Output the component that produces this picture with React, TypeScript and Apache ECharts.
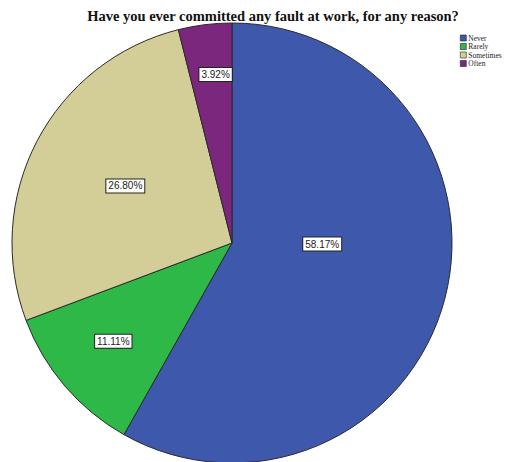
import React, { useEffect, useRef } from "react";
import * as echarts from "echarts";

const categories = ["Never", "Rarely", "Sometimes", "Often"];
const percentages = [58.17, 11.11, 26.8, 3.92];
const colors = ["#3E58AC", "#2EB848", "#D3CE97", "#7B277D"];

// label placement (fraction of radius, angular tweak in degrees)
const labelRadiusRatio = [0.41, 0.7, 0.55, 0.77];
const labelAngleTweak = [-14, 1, 0.5, 1.5];

const CX = 232;
const CY = 243;
const R = 220;

export default function App() {
  const ref = useRef<HTMLDivElement>(null);
  useEffect(() => {
    if (!ref.current) return;
    const chart = echarts.init(ref.current, null, { renderer: "svg" });
    const total = percentages.reduce((a, b) => a + b, 0);
    const mids: number[] = [];
    let acc = 0;
    percentages.forEach((v) => {
      mids.push(((acc + v / 2) / total) * 360);
      acc += v;
    });
    chart.setOption({
      animation: false,
      backgroundColor: "#ffffff",
      title: {
        text: "Have you ever committed any fault at work, for any reason?",
        left: 268,
        top: 3,
        textAlign: "center",
        textStyle: {
          fontFamily: "Liberation Serif",
          fontWeight: "bold",
          fontSize: 14.5,
          color: "#111",
        },
      },
      legend: {
        orient: "vertical",
        left: 455,
        top: 29,
        itemWidth: 6,
        itemHeight: 6,
        itemGap: 0.5,
        icon: "rect",
        data: categories,
        itemStyle: { borderColor: "#222", borderWidth: 0.6 },
        textStyle: {
          fontFamily: "Liberation Serif",
          fontSize: 7.5,
          lineHeight: 7,
          color: "#222",
          padding: [0, 0, 0, -3],
        },
      },
      series: [
        {
          type: "pie",
          center: [CX, CY],
          radius: R,
          startAngle: 90,
          clockwise: true,
          avoidLabelOverlap: false,
          data: categories.map((c, i) => ({
            name: c,
            value: percentages[i],
            itemStyle: { color: colors[i] },
          })),
          itemStyle: { borderColor: "#2a2a2a", borderWidth: 1 },
          label: {
            show: true,
            position: "inside",
            formatter: (p: any) => p.value.toFixed(2) + "%",
            fontFamily: "Liberation Sans",
            fontSize: 10,
            color: "#222",
            backgroundColor: "#ffffff",
            borderColor: "#222",
            borderWidth: 1,
            padding: [2, 2, 1, 2],
          },
          labelLine: { show: false },
          labelLayout: (params: any) => {
            const i = params.dataIndex;
            const a = ((mids[i] + labelAngleTweak[i]) * Math.PI) / 180;
            const r = labelRadiusRatio[i] * R;
            return {
              x: CX + r * Math.sin(a),
              y: CY - r * Math.cos(a),
              align: "center",
              verticalAlign: "middle",
            };
          },
        },
      ],
    });
    return () => chart.dispose();
  }, []);
  return (
    <div
      ref={ref}
      style={{ position: "fixed", left: 0, top: 0, width: 506, height: 462 }}
    />
  );
}
